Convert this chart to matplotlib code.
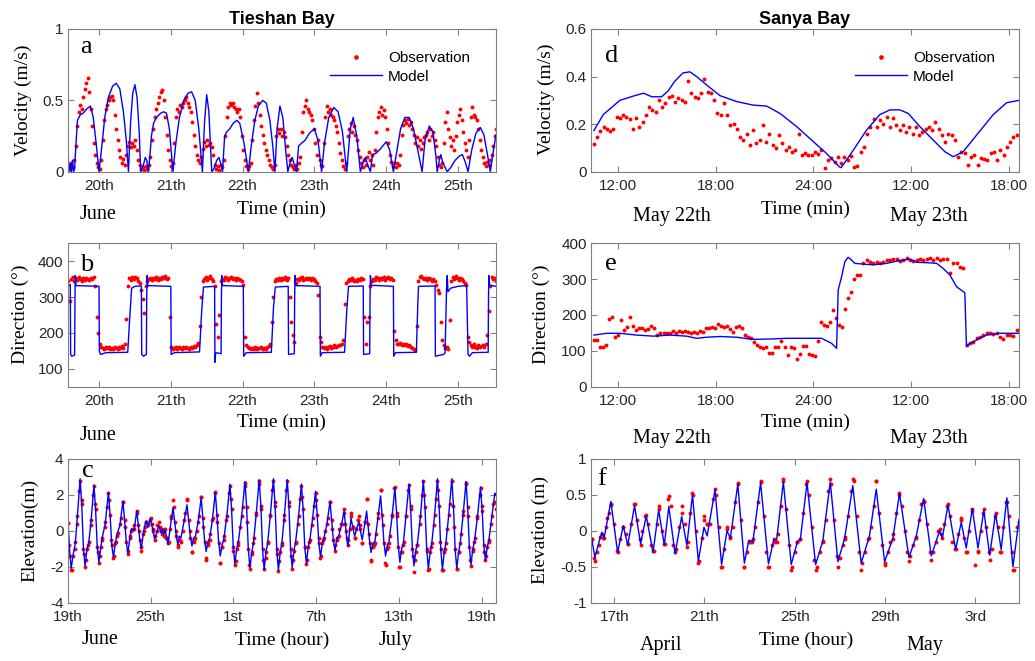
import matplotlib
matplotlib.use("Agg")
import matplotlib.pyplot as plt
import numpy as np

plt.rcParams['font.family'] = 'Liberation Sans'
plt.rcParams['axes.unicode_minus'] = False

SERIF = 'Liberation Serif'
OBS_COLOR = '#ff0000'
MODEL_COLOR = '#0000ff'

# ---------------- Tieshan Bay : velocity (a) ----------------
# time in days of June
a_model_day = [19.565, 19.58, 19.6, 19.615, 19.63, 19.645, 19.66, 19.68, 19.7, 19.74, 19.78, 19.83, 19.88, 19.92, 19.96, 20.0,
               20.04, 20.08, 20.13, 20.19, 20.24, 20.29, 20.34, 20.38, 20.41,
               20.44, 20.47, 20.5, 20.53, 20.56, 20.58, 20.62, 20.645, 20.665, 20.69,
               20.71, 20.73, 20.76, 20.8, 20.86, 20.9, 20.94, 20.98, 21.01, 21.03,
               21.07, 21.12, 21.18, 21.24, 21.29, 21.34, 21.39, 21.44, 21.47, 21.5, 21.53, 21.57,
               21.6, 21.64, 21.67, 21.7, 21.72, 21.75, 21.78, 21.82, 21.87, 21.92, 21.96, 22.02, 22.08,
               22.12, 22.17, 22.22, 22.28, 22.33, 22.38, 22.42, 22.45, 22.48, 22.52, 22.56, 22.6, 22.63,
               22.67, 22.69, 22.72, 22.75, 22.78, 22.82, 22.87, 22.93, 23.0, 23.05, 23.1,
               23.14, 23.2, 23.27, 23.33, 23.39, 23.45, 23.5, 23.54, 23.59, 23.64,
               23.68, 23.71, 23.74, 23.78, 23.81, 23.86, 23.92, 24.0, 24.05, 24.1,
               24.15, 24.2, 24.26, 24.32, 24.38, 24.44, 24.5, 24.54, 24.6, 24.65, 24.69, 24.71,
               24.74, 24.76, 24.79, 24.85, 24.9, 24.96, 25.02, 25.06, 25.1, 25.14,
               25.19, 25.25, 25.31, 25.36, 25.41, 25.45, 25.49, 25.53]
a_model_vel = [0.22, 0.0, 0.06, 0.0, 0.08, 0.0, 0.02, 0.2, 0.36, 0.40, 0.41, 0.44, 0.46, 0.38, 0.2, 0.0,
               0.18, 0.38, 0.52, 0.6, 0.62, 0.58, 0.42, 0.22, 0.0,
               0.35, 0.55, 0.61, 0.52, 0.28, 0.0, 0.05, 0.1, 0.08, 0.0,
               0.12, 0.25, 0.34, 0.38, 0.41, 0.42, 0.41, 0.3, 0.12, 0.0,
               0.2, 0.38, 0.5, 0.55, 0.56, 0.5, 0.3, 0.0, 0.35, 0.54, 0.42, 0.0,
               0.02, 0.08, 0.1, 0.05, 0.0, 0.25, 0.28, 0.3, 0.34, 0.36, 0.34, 0.2, 0.0,
               0.18, 0.36, 0.46, 0.5, 0.48, 0.36, 0.18, 0.0, 0.3, 0.46, 0.38, 0.15, 0.0,
               0.08, 0.1, 0.05, 0.0, 0.18, 0.2, 0.22, 0.27, 0.3, 0.22, 0.0,
               0.2, 0.38, 0.45, 0.42, 0.28, 0.0, 0.3, 0.38, 0.25, 0.0,
               0.07, 0.1, 0.05, 0.0, 0.12, 0.13, 0.16, 0.21, 0.15, 0.0,
               0.15, 0.3, 0.38, 0.38, 0.3, 0.15, 0.0, 0.22, 0.32, 0.28, 0.12, 0.0,
               0.08, 0.12, 0.06, 0.0, 0.03, 0.08, 0.11, 0.12, 0.07, 0.0,
               0.15, 0.27, 0.31, 0.26, 0.12, 0.0, 0.14, 0.26]
# observations every 30 min from 19.57 to 25.53
a_obs_vel = [0.04, 0.02, 0.06, 0.03, 0.08, 0.18, 0.32, 0.42, 0.47, 0.44, 0.52, 0.58, 0.62, 0.66, 0.56, 0.44,
             0.32, 0.2, 0.12, 0.06, 0.03, 0.02, 0.08, 0.22, 0.36, 0.44, 0.47, 0.5, 0.52, 0.53, 0.5, 0.4,
             0.3, 0.22, 0.15, 0.1, 0.06, 0.09, 0.05, 0.12, 0.18, 0.21, 0.17, 0.2, 0.18, 0.22, 0.15, 0.08,
             0.05, 0.02, 0.03, 0.01, 0.04, 0.02, 0.05, 0.1, 0.22, 0.3, 0.38, 0.44, 0.48, 0.52, 0.56, 0.57,
             0.5, 0.38, 0.26, 0.15, 0.08, 0.04, 0.06, 0.2, 0.38, 0.44, 0.42, 0.47, 0.45, 0.48, 0.5, 0.52,
             0.48, 0.45, 0.42, 0.35, 0.26, 0.18, 0.12, 0.08, 0.06, 0.1, 0.16, 0.21, 0.18, 0.22, 0.19, 0.2,
             0.17, 0.12, 0.05, 0.02, 0.04, 0.01, 0.05, 0.03, 0.08, 0.25, 0.38, 0.45, 0.48, 0.47, 0.48, 0.45,
             0.44, 0.42, 0.44, 0.38, 0.25, 0.15, 0.08, 0.04, 0.02, 0.04, 0.06, 0.22, 0.36, 0.46, 0.55, 0.48,
             0.4, 0.32, 0.26, 0.2, 0.15, 0.12, 0.08, 0.05, 0.03, 0.02, 0.05, 0.25, 0.3, 0.27, 0.3, 0.25,
             0.28, 0.24, 0.18, 0.12, 0.08, 0.05, 0.03, 0.02, 0.05, 0.02, 0.06, 0.1, 0.28, 0.42, 0.46, 0.5,
             0.44, 0.42, 0.4, 0.36, 0.3, 0.2, 0.12, 0.22, 0.08, 0.05, 0.04, 0.2, 0.38, 0.46, 0.42, 0.44,
             0.4, 0.38, 0.36, 0.32, 0.28, 0.2, 0.13, 0.08, 0.04, 0.02, 0.06, 0.25, 0.3, 0.34, 0.28, 0.32,
             0.26, 0.22, 0.15, 0.1, 0.06, 0.03, 0.08, 0.05, 0.1, 0.14, 0.08, 0.12, 0.05, 0.15, 0.28, 0.38,
             0.42, 0.45, 0.4, 0.43, 0.38, 0.3, 0.2, 0.12, 0.07, 0.04, 0.06, 0.03, 0.06, 0.05, 0.12, 0.26,
             0.33, 0.36, 0.34, 0.37, 0.33, 0.35, 0.3, 0.26, 0.2, 0.24, 0.18, 0.22, 0.16, 0.2, 0.24, 0.26,
             0.28, 0.22, 0.3, 0.25, 0.28, 0.22, 0.18, 0.1, 0.05, 0.03, 0.06, 0.2, 0.35, 0.42, 0.3, 0.24,
             0.18, 0.22, 0.15, 0.25, 0.35, 0.4, 0.44, 0.36, 0.28, 0.2, 0.15, 0.1, 0.22, 0.38, 0.45, 0.4,
             0.38, 0.36, 0.3, 0.22, 0.15, 0.1, 0.06, 0.04, 0.07, 0.05, 0.08, 0.12, 0.18, 0.25, 0.3]

# ---------------- Tieshan Bay : direction (b) ----------------
b_model_day = [19.564, 19.6, 19.605, 19.62, 19.66, 19.666, 19.67, 19.68,
               20.0, 20.005, 20.02, 20.1, 20.4, 20.43, 20.455, 20.5,
               20.59, 20.595, 20.62, 20.66, 20.664, 20.67, 20.68,
               21.0, 21.005, 21.05, 21.4, 21.43, 21.455,
               21.61, 21.615, 21.625, 21.7, 21.705, 21.71, 21.72,
               22.01, 22.015, 22.05, 22.4, 22.43, 22.455,
               22.635, 22.64, 22.72, 22.725, 22.73, 22.74,
               23.078, 23.083, 23.11, 23.42, 23.45, 23.475,
               23.68, 23.685, 23.77, 23.775, 23.78, 23.79,
               24.1, 24.105, 24.13, 24.42, 24.44, 24.45,
               24.68, 24.685, 24.8, 24.82, 24.84, 24.85, 24.86, 24.9, 25.0,
               25.12, 25.14, 25.16, 25.2, 25.42, 25.425, 25.43, 25.44, 25.53]
b_model_dir = [330, 335, 140, 135, 138, 300, 360, 332,
               330, 150, 140, 145, 146, 250, 325, 330,
               331, 140, 135, 140, 300, 360, 332,
               330, 140, 145, 147, 260, 328,
               330, 118, 145, 142, 300, 360, 332,
               330, 135, 145, 146, 270, 328,
               330, 140, 142, 300, 360, 332,
               330, 135, 145, 146, 260, 330,
               331, 140, 142, 300, 360, 333,
               330, 135, 145, 146, 280, 330,
               331, 135, 140, 145, 320, 360, 315, 325, 330,
               332, 140, 135, 145, 146, 300, 360, 333, 330]
b_obs_dir = [345, 290,
             350, 355, 345, 352, 348, 356, 350, 345, 352, 349, 354, 350, 347, 353, 351, 356,
             330, 245, 200, 170, 160,
             158, 155, 160, 157, 162, 156, 159, 154, 160, 158, 155, 161, 157, 163, 159, 168,
             240, 330, 352,
             348, 355, 350, 357, 352, 346, 340,
             320, 295, 255, 330,
             345, 350, 354, 348, 352, 350, 356, 349, 353, 351, 355, 352, 358, 350, 354,
             245, 160, 155,
             158, 160, 156, 162, 158, 155, 160, 157, 161, 158, 156, 162, 159, 163, 160, 165, 172,
             220, 300, 345,
             350, 356, 348, 352, 358, 350, 346,
             330, 225, 190, 250, 345,
             350, 348, 355, 352, 349, 353, 356, 350, 352, 347, 354, 351, 349, 345, 335,
             190, 165,
             160, 157, 155, 159, 156, 160, 154, 158, 157, 161, 155, 159, 156, 160, 163, 170,
             230, 300, 345,
             350, 348, 353, 347, 352, 350, 355, 349, 352,
             300, 230, 195, 175, 340,
             350, 347, 352, 355, 348, 351, 354, 350, 353, 348, 352, 350, 346, 340,
             305, 190, 175,
             160, 158, 162, 156, 160, 163, 158, 161, 165, 160, 163, 167, 165, 170, 180,
             280, 340,
             345, 350, 347, 352, 345, 349, 346, 351, 348, 353, 350,
             245, 170, 230, 245, 330,
             345, 350, 348, 355, 352, 347, 353, 350, 356, 349, 352, 355, 350, 353, 348,
             205, 180,
             170, 168, 172, 166, 170, 165, 168, 163, 166, 160, 158, 155, 152,
             220, 345,
             355, 358, 352, 350, 354, 348, 352, 350, 346, 350, 345, 335,
             320, 310, 230, 180, 165,
             158, 162, 155,
             235, 345,
             355, 350, 358, 352, 348, 353, 350, 345, 340,
             335, 190, 175,
             165, 160, 168, 162, 158, 165, 160, 163, 167, 162, 170,
             195, 260, 330,
             355, 350, 352, 345]

# ---------------- Tieshan Bay : elevation (c) ----------------
# days after 19 June
c_model_day = [0.0, 0.12, 0.25, 0.4, 0.55, 0.7,
               0.9, 1.02, 1.14, 1.26, 1.4, 1.52, 1.7,
               1.9, 2.02, 2.14, 2.26, 2.4, 2.52, 2.72,
               2.95, 3.07, 3.19, 3.31, 3.45, 3.57, 3.78,
               4.0, 4.12, 4.24, 4.36, 4.5, 4.62, 4.8,
               5.0, 5.12, 5.22, 5.33, 5.47, 5.58, 5.7,
               5.8, 5.98, 6.1, 6.2, 6.3, 6.45, 6.6, 6.75, 6.85, 6.95, 7.05, 7.15, 7.26, 7.4, 7.5,
               7.63, 7.75, 7.87, 7.97, 8.08, 8.2, 8.42,
               8.64, 8.76, 8.88, 9.0, 9.12, 9.25, 9.45,
               9.67, 9.79, 9.91, 10.03, 10.16, 10.28, 10.48,
               10.69, 10.81, 10.93, 11.05, 11.18, 11.3, 11.52,
               11.75, 11.87, 11.99, 12.11, 12.24, 12.36, 12.6,
               12.84, 12.96, 13.08, 13.2, 13.33, 13.45, 13.65,
               13.87, 13.99, 14.11, 14.23, 14.36, 14.48, 14.68,
               14.9, 15.02, 15.14, 15.26, 15.39, 15.51, 15.7,
               15.9, 16.02, 16.14, 16.26, 16.39, 16.51, 16.72,
               16.93, 17.05, 17.17, 17.29, 17.42, 17.54, 17.74,
               17.95, 18.07, 18.19, 18.31, 18.44, 18.56, 18.78,
               19.0, 19.12, 19.24, 19.36, 19.5, 19.62, 19.82,
               20.02, 20.12, 20.22, 20.3, 20.42, 20.52, 20.65,
               20.78, 20.9, 21.0, 21.1, 21.2, 21.33, 21.5,
               21.65, 21.77, 21.87, 21.97, 22.1, 22.25, 22.45,
               22.66, 22.78, 22.9, 23.02, 23.15, 23.27, 23.48,
               23.7, 23.82, 23.94, 24.06, 24.19, 24.31, 24.5,
               24.72, 24.84, 24.96, 25.08, 25.21, 25.33, 25.55,
               25.76, 25.88, 26.0, 26.12, 26.25, 26.37, 26.58,
               26.78, 26.9, 27.02, 27.14, 27.27, 27.39, 27.6,
               27.82, 27.94, 28.06, 28.18, 28.31, 28.43, 28.64,
               28.85, 28.97, 29.09, 29.21, 29.34, 29.46, 29.68,
               29.9, 30.02, 30.14, 30.26, 30.39, 30.51, 30.72,
               30.94, 31.0]
c_model_elev = [1.0, -0.9, -2.1, -1.3, -0.7, 0.8,
                2.9, 1.4, -1.0, -1.95, -1.0, -0.7, 0.6,
                2.55, 1.2, -0.9, -1.75, -0.9, -0.3, 0.4,
                2.15, 0.9, -0.8, -1.45, -0.7, -0.2, 0.3,
                1.65, 0.6, -0.6, -1.25, -0.4, 0.1, 0.0,
                1.1, 0.3, -0.5, -1.0, -0.2, 0.3, 0.55,
                0.2, 0.7, 0.3, -0.1, -0.45, -0.1, 0.3, -0.1, 0.1, -0.2, 0.05, -0.3, -0.75, 0.0, 0.6,
                1.3, 0.5, -0.3, -0.75, -0.3, -0.4, 0.5,
                1.45, 0.6, -0.3, -0.85, -0.4, -0.3, 0.5,
                1.85, 0.7, -0.5, -1.15, -0.6, -0.4, 0.6,
                2.15, 0.9, -0.6, -1.4, -0.8, -0.5, 0.8,
                2.6, 1.2, -0.9, -1.85, -1.0, -0.6, 0.8,
                2.75, 1.3, -1.0, -2.05, -1.2, -0.7, 0.9,
                2.85, 1.4, -1.0, -2.15, -1.2, -0.7, 0.9,
                2.9, 1.4, -1.0, -2.2, -1.2, -0.7, 0.9,
                2.85, 1.4, -1.0, -2.05, -1.1, -0.6, 0.8,
                2.6, 1.2, -0.9, -1.8, -0.9, -0.5, 0.7,
                2.2, 0.9, -0.7, -1.45, -0.7, -0.4, 0.4,
                1.65, 0.6, -0.5, -1.1, -0.4, -0.3, 0.3,
                1.1, 0.3, -0.5, -0.85, 0.0, 0.7, 0.2,
                -0.3, 0.0, 0.3, 0.5, 0.0, -0.5, 0.3,
                1.1, 0.2, -0.6, -1.2, -0.7, -0.6, 0.6,
                1.95, 0.8, -0.6, -1.4, -0.8, -0.6, 0.7,
                2.4, 1.0, -0.8, -1.75, -1.0, -0.7, 0.8,
                2.6, 1.2, -0.9, -1.95, -1.1, -0.7, 0.8,
                2.8, 1.3, -1.0, -2.1, -1.2, -0.7, 0.9,
                2.9, 1.4, -1.0, -2.15, -1.2, -0.7, 0.9,
                2.9, 1.4, -1.0, -2.1, -1.2, -0.7, 0.9,
                2.75, 1.3, -0.9, -1.9, -1.0, -0.6, 0.8,
                2.45, 1.1, -0.8, -1.65, -0.9, -0.5, 0.8,
                2.1, 2.0]
# observations at the turning points (same times as c_model_day)
c_obs_turn = [0.45, -0.8, -2.2, -1.4, -0.6, 0.8,
              2.8, 1.5, -1.0, -2.0, -1.0, -0.6, 0.6,
              2.5, 1.2, -0.9, -1.8, -0.9, -0.4, 0.5,
              2.1, 0.9, -0.8, -1.5, -0.7, -0.3, 0.4,
              1.6, 0.6, -0.6, -1.3, -0.4, 0.0, 0.1,
              1.1, 0.3, -0.5, -1.1, -0.2, 0.2, 0.5,
              0.3, 0.6, 0.4, 0.0, -0.5, 0.0, 0.5, 0.0, 0.1, -0.3, 0.1, -0.4, -0.7, 0.1, 0.7,
              1.7, 0.5, -0.3, -0.9, -0.5, -0.6, 0.6,
              1.75, 0.6, -0.4, -1.2, -0.6, -0.4, 0.5,
              1.9, 0.7, -0.6, -1.6, -0.8, -0.5, 0.6,
              2.15, 0.9, -0.7, -1.8, -0.9, -0.5, 0.8,
              2.5, 1.2, -0.9, -1.9, -1.0, -0.6, 0.8,
              2.65, 1.3, -1.0, -2.1, -1.2, -0.7, 0.9,
              2.75, 1.4, -1.0, -2.15, -1.2, -0.7, 0.9,
              2.8, 1.4, -1.0, -2.25, -1.2, -0.7, 0.9,
              2.75, 1.4, -1.0, -2.1, -1.1, -0.6, 0.8,
              2.5, 1.2, -0.9, -1.85, -0.9, -0.5, 0.7,
              2.1, 0.9, -0.7, -1.5, -0.7, -0.4, 0.4,
              1.6, 0.6, -0.5, -1.1, -0.5, -0.3, 0.4,
              1.2, 0.4, -0.4, -0.8, 0.1, 1.0, 0.2,
              -0.4, 0.1, 0.6, 0.8, 0.1, -0.7, 0.5,
              1.8, 0.4, -0.7, -1.7, -0.9, -0.7, 0.7,
              2.3, 0.9, -0.7, -1.9, -1.0, -0.7, 0.8,
              2.45, 1.0, -0.9, -2.0, -1.2, -0.8, 0.8,
              2.55, 1.2, -1.0, -2.3, -1.2, -0.8, 0.8,
              2.75, 1.3, -1.0, -2.2, -1.2, -0.7, 0.9,
              2.8, 1.4, -1.0, -2.2, -1.2, -0.7, 0.9,
              2.8, 1.4, -1.0, -2.1, -1.2, -0.7, 0.9,
              2.65, 1.3, -0.9, -1.95, -1.0, -0.6, 0.8,
              2.4, 1.1, -0.8, -1.65, -0.9, -0.5, 0.8,
              1.6, 1.2]
# observations every 4 hours
c_obs_4h = [0.45, -1.4, -2.2, -1.0, 0.4, 2.2,
            1.7, -1.3, -1.6, -0.8, 0.3, 2.0,
            1.5, -1.2, -1.4, -0.5, 0.2, 1.3,
            1.7, -0.5, -1.4, -0.6, -0.1, 0.7,
            1.6, 0.2, -1.1, -0.3, 0.1, 0.3,
            1.0, 0.0, -0.9, 0.0, 0.5, 0.4,
            0.7, 0.1, -0.3, 0.3, 0.2, -0.2,
            0.0, -0.4, -0.6, 0.8, 1.3, 0.0,
            -0.8, -0.5, 0.0, 1.0, 1.7, 0.0,
            -1.2, -0.5, 0.0, 0.8, 1.9, 0.2,
            -1.5, -0.7, -0.2, 0.7, 2.1, 0.5,
            -1.8, -0.9, -0.3, 0.6, 2.1, 1.8,
            -1.1, -1.7, -0.8, 0.2, 1.3, 2.5,
            0.5, -1.9, -1.3, -0.4, 1.0, 2.6,
            1.2, -1.6, -1.5, -0.6, 0.8, 2.3,
            1.6, -1.3, -1.7, -0.8, 0.6, 2.3,
            1.6, -1.4, -1.6, -0.7, 0.4, 1.8,
            1.9, -0.9, -1.6, -0.6, 0.3, 1.4,
            1.7, -0.4, -1.4, -0.5, 0.0, 0.7,
            1.6, 0.1, -0.8, -0.4, 0.1, 0.4,
            1.0, 0.0, -0.5, 0.8, 0.2, -0.4,
            0.6, 0.3, -0.7, 0.5, 1.8, -0.2,
            -1.6, -0.8, -0.2, 1.0, 2.3, 0.3,
            -1.8, -0.9, -0.3, 0.9, 2.4, 0.8,
            -2.0, -1.2, -0.6, 0.8, 2.3, 1.4,
            -1.4, -1.6, -0.8, 0.4, 2.0, 2.0,
            -1.1, -2.1, -0.9, 0.3, 1.8, 2.3,
            -0.6, -2.2, -1.0, 0.1, 1.5, 2.8,
            0.2, -2.1, -1.2, -0.2, 1.1, 2.6,
            0.8, -1.6, -1.1, -0.4, 0.7, 2.0,
            1.4, -1.2, -1.4, -0.6, 0.4, 1.5,
            1.6]

# ---------------- Sanya Bay : velocity (d) ----------------
# hours from 00:00 on 22 May
d_model_hour = [10.55, 11.12, 12.14, 12.6, 13.06, 13.6, 14.1, 14.7, 15.1, 15.5, 16.0, 16.43, 16.84,
                17.45, 18.27, 19.29, 20.3, 21.13, 21.95, 22.97, 24.0, 24.8, 25.6, 25.7, 26.44,
                27.26, 28.07, 28.69, 29.3, 29.81, 30.52, 31.34, 32.06, 32.57, 33.18, 34.0, 35.02,
                35.84, 36.6]
d_model_vel = [0.173, 0.24, 0.30, 0.31, 0.32, 0.33, 0.315, 0.315, 0.34, 0.38, 0.415, 0.42, 0.40,
               0.365, 0.32, 0.295, 0.28, 0.276, 0.245, 0.19, 0.126, 0.077, 0.02, 0.017, 0.09,
               0.175, 0.24, 0.26, 0.26, 0.245, 0.19, 0.133, 0.084, 0.063, 0.084, 0.154, 0.24,
               0.29, 0.30]
d_obs_vel = [0.116, 0.147, 0.173, 0.19, 0.18, 0.17, 0.18, 0.23, 0.225, 0.24,
             0.23, 0.22, 0.18, 0.225, 0.19, 0.21, 0.24, 0.27, 0.26, 0.25,
             0.30, 0.27, 0.29, 0.315, 0.32, 0.295, 0.31, 0.30, 0.295, 0.38,
             0.33, 0.315, 0.31, 0.33, 0.39, 0.335, 0.33, 0.30, 0.245, 0.24,
             0.29, 0.24, 0.195, 0.20, 0.18, 0.147, 0.133, 0.16, 0.112, 0.175,
             0.12, 0.133, 0.196, 0.126, 0.16, 0.112, 0.098, 0.154, 0.12, 0.091,
             0.105, 0.084, 0.091, 0.16, 0.07, 0.077, 0.07, 0.07, 0.084, 0.074,
             0.091, 0.014, 0.049, 0.056, 0.042, 0.063, 0.035, 0.063, 0.049, 0.066,
             0.021, 0.024, 0.084, 0.105, 0.16, 0.19, 0.22, 0.19, 0.217, 0.20,
             0.23, 0.19, 0.225, 0.196, 0.175, 0.196, 0.168, 0.19, 0.16, 0.19,
             0.154, 0.168, 0.18, 0.19, 0.175, 0.21, 0.18, 0.154, 0.126, 0.16,
             0.154, 0.133, 0.063, 0.084, 0.077, 0.028, 0.063, 0.07, 0.028, 0.056,
             0.052, 0.049, 0.077, 0.084, 0.049, 0.091, 0.07, 0.105, 0.126, 0.147,
             0.154]

# ---------------- Sanya Bay : direction (e) ----------------
e_model_hour = [10.55, 11.33, 12.14, 13.16, 14.19, 15.2, 16.23, 16.84, 17.45, 18.27, 19.29, 20.31,
                21.33, 22.36, 23.58, 24.5, 25.11, 25.42, 25.52, 25.73, 25.93, 26.13, 26.34, 26.54,
                27.05, 27.67, 28.48, 29.3, 29.91, 30.32, 30.93, 31.55, 31.95, 32.36, 32.77, 33.28,
                33.38, 33.59, 34.2, 34.61, 35.43, 36.6]
e_model_dir = [144, 149, 149, 144, 141, 144, 141, 135, 138, 140, 138, 132,
               133, 135, 135, 135, 121, 107, 270, 307, 349, 361, 353, 344,
               342, 340, 344, 352, 356, 347, 346, 344, 330, 312, 279, 262,
               112, 121, 135, 144, 149, 149]
# observations before and after 03:00 on 23 May
e_obs_dir_1 = [130, 130, 112, 112, 116, 189, 195, 140, 144, 186, 158, 167, 195, 169, 158,
               165, 163, 158, 161, 169, 163, 144, 149, 149, 151, 151, 155, 149, 155, 153,
               155, 153, 151, 153, 151, 155, 153, 163, 163, 167, 163, 175, 169, 167, 169,
               160, 153, 167, 169, 163, 144, 140, 135, 126, 116, 112, 107, 112, 93, 93,
               112, 112, 128, 112, 88, 112, 107, 76, 90, 113, 113, 91, 88, 86, 128,
               181, 172, 169, 181, 214, 191, 172, 167, 216, 247, 265, 300, 312, 312, 344]
e_obs_dir_2 = [353, 349, 344, 349, 344, 349, 353, 353, 355, 355, 352, 353, 358, 353, 352,
               353, 355, 353, 355, 358, 353, 358, 353, 355, 355,
               318, 346, 344, 335, 330,
               116, 121, 126, 135, 138, 144, 149, 149, 147, 149, 140, 132, 144, 144, 141, 158]

# ---------------- Sanya Bay : elevation (f) ----------------
# days after 00:00 on 16 April
f_model_day = [0.0, 0.14, 0.33, 0.45, 0.55, 0.7, 0.85, 1.15,
               1.4, 1.6, 1.9, 2.17, 2.42, 2.72, 2.97, 3.22,
               3.42, 3.7, 3.99, 4.22, 4.47, 4.73, 4.98, 5.12,
               5.47, 5.76, 6.0, 6.15, 6.48, 6.77, 6.97, 7.15,
               7.49, 7.84, 8.07, 8.2, 8.5, 8.85, 9.12, 9.25,
               9.55, 9.93, 10.25, 10.58, 10.92, 11.22, 11.58, 11.95,
               12.32, 12.62, 12.99, 13.36, 13.65, 14.07, 14.39, 14.72,
               15.06, 15.43, 15.55, 15.8, 16.14, 16.39, 16.61, 16.88,
               17.13, 17.39, 17.65, 17.91, 18.16, 18.41, 18.68, 18.95]
f_model_elev = [-0.1, -0.37, -0.15, -0.02, -0.1, 0.15, 0.41, -0.3,
                0.07, -0.2, 0.35, -0.18, 0.21, -0.3, 0.29, -0.2,
                0.34, -0.32, 0.2, -0.2, 0.5, -0.42, 0.05, -0.07,
                0.57, -0.47, 0.0, -0.1, 0.65, -0.45, -0.13, -0.15,
                0.67, -0.46, -0.13, -0.13, 0.68, -0.47, -0.15, -0.13,
                0.67, -0.47, -0.14, 0.68, -0.43, -0.1, 0.63, -0.45,
                -0.07, 0.58, -0.43, -0.1, 0.52, -0.37, -0.08, 0.45,
                -0.35, 0.0, -0.1, 0.36, -0.26, 0.12, -0.24, 0.31,
                -0.24, 0.28, -0.34, 0.24, -0.26, 0.46, -0.5, 0.16]
f_obs_turn = [-0.12, -0.42, -0.2, -0.05, -0.1, 0.18, 0.36, -0.3,
              0.05, -0.18, 0.38, -0.2, 0.22, -0.28, 0.35, -0.18,
              0.48, -0.3, 0.25, -0.22, 0.52, -0.45, 0.2, 0.1,
              0.58, -0.5, 0.02, -0.08, 0.66, -0.5, -0.15, -0.12,
              0.68, -0.5, -0.12, -0.15, 0.7, -0.55, -0.15, -0.12,
              0.7, -0.55, -0.15, 0.72, -0.5, -0.12, 0.72, -0.55,
              -0.1, 0.7, -0.48, -0.12, 0.53, -0.42, -0.1, 0.42,
              -0.4, 0.02, -0.1, 0.38, -0.25, 0.18, -0.3, 0.3,
              -0.3, 0.3, -0.4, 0.25, -0.3, 0.4, -0.55, 0.13]
# observations every 3 hours
f_obs_3h = [-0.12, -0.38, -0.3, -0.08, -0.1, 0.05, 0.25, 0.38,
            0.1, -0.28, -0.12, 0.05, -0.05, -0.18, 0.1, 0.38,
            0.15, -0.12, 0.0, 0.2, 0.1, -0.2, -0.28, 0.1,
            0.3, 0.0, -0.18, 0.45, 0.35, -0.2, -0.25, 0.05,
            0.35, 0.1, -0.15, 0.25, 0.5, 0.0, -0.42, -0.1,
            0.15, 0.1, 0.1, 0.45, 0.5, 0.05, -0.5, -0.25,
            0.05, -0.1, 0.05, 0.4, 0.65, 0.15, -0.5, -0.3,
            -0.15, -0.15, 0.05, 0.4, 0.7, 0.2, -0.3, -0.5,
            -0.2, -0.15, -0.05, 0.35, 0.72, 0.3, -0.2, -0.5,
            -0.3, -0.15, -0.12, 0.25, 0.65, 0.5, 0.05, -0.4,
            -0.5, -0.3, -0.14, 0.15, 0.55, 0.65, 0.15, -0.35,
            -0.38, -0.2, -0.08, 0.2, 0.55, 0.7, 0.2, -0.3,
            -0.45, -0.3, -0.12, 0.05, 0.35, 0.7, 0.25, -0.2,
            -0.45, -0.3, -0.15, -0.05, 0.25, 0.5, 0.35, 0.0,
            -0.3, -0.35, -0.2, -0.08, 0.15, 0.38, 0.4, 0.1,
            -0.3, -0.3, -0.15, 0.0, -0.05, 0.1, 0.35, 0.2,
            -0.15, -0.25, -0.05, 0.15, -0.1, -0.3, 0.0, 0.28,
            -0.47, -0.28, 0.0, 0.25, 0.05, -0.3, -0.25, 0.2,
            0.05, -0.3, 0.05, 0.4, 0.2, -0.3, -0.55, 0.05]

# tick labels
june_ticks = [20, 21, 22, 23, 24, 25]
june_labels = ['20th', '21th', '22th', '23th', '24th', '25th']
month_ticks = [0, 6, 12, 18, 24, 30]
month_labels = ['19th', '25th', '1st', '7th', '13th', '19th']
may_ticks = [12, 18, 24, 30, 36]
may_labels = ['12:00', '18:00', '24:00', '12:00', '18:00']
april_ticks = [1, 5, 9, 13, 17]
april_labels = ['17th', '21th', '25th', '29th', '3rd']

# ---------------- figure ----------------
W, H = 1035, 661
fig = plt.figure(figsize=(W / 100, H / 100), dpi=100)


def add_axes(left, top, right, bottom):
    return fig.add_axes([left / W, 1 - bottom / H, (right - left) / W, (bottom - top) / H])


def style(ax):
    for sp in ax.spines.values():
        sp.set_color('#808080')
        sp.set_linewidth(0.8)
    ax.tick_params(direction='in', length=4, width=0.8, color='#808080',
                   top=True, right=True, labelsize=11, labelcolor='#262626')
    ax.tick_params(axis='x', pad=5.5)
    ax.tick_params(axis='y', pad=3)


def ftext(x, y, s, size=14, rot=0, **kw):
    fig.text(x / W, 1 - y / H, s, ha='center', va='center', rotation=rot,
             fontsize=size, family=SERIF, **kw)


def letter(x, y, s):
    fig.text(x / W, 1 - y / H, s, ha='left', va='baseline', fontsize=19, family=SERIF)


def draw(ax, obs_x, obs_y, mod_x, mod_y):
    ho = None
    for ox, oy in zip(obs_x, obs_y):
        ho, = ax.plot(ox, oy, 'o', color=OBS_COLOR, ms=2.8, mew=0, linestyle='none')
    hm, = ax.plot(mod_x, mod_y, '-', color=MODEL_COLOR, lw=1.0)
    return ho, hm


def legend(ax, ho, hm, x):
    ax.legend([ho, hm], ['Observation', 'Model'], loc='upper left', bbox_to_anchor=(x, 0.843),
              frameon=False, fontsize=11, handlelength=3.4, handletextpad=0.4, borderpad=0,
              borderaxespad=0, labelspacing=0.28, markerscale=1.2, numpoints=1)


L1, R1, L2, R2 = 67.7, 495.7, 591, 1019
T1, B1, T2, B2, T3, B3 = 29, 171.7, 243.3, 386.7, 459, 602.7

# (a)
ax = add_axes(L1, T1, R1, B1)
a_obs_day = np.linspace(19.57, 25.53, len(a_obs_vel))
ho, hm = draw(ax, [a_obs_day], [a_obs_vel], a_model_day, a_model_vel)
ax.set_xlim(19.564, 25.525)
ax.set_ylim(0, 1)
ax.set_yticks([0, 0.5, 1])
ax.set_yticklabels(['0', '0.5', '1'])
ax.set_xticks(june_ticks)
ax.set_xticklabels(june_labels)
style(ax)
legend(ax, ho, hm, 0.613)

# (b)
ax = add_axes(L1, T2, R1, B2)
b_obs_day = np.linspace(19.57, 25.53, len(b_obs_dir))
draw(ax, [b_obs_day], [b_obs_dir], b_model_day, b_model_dir)
ax.set_xlim(19.564, 25.525)
ax.set_ylim(50, 450)
ax.set_yticks([100, 200, 300, 400])
ax.set_xticks(june_ticks)
ax.set_xticklabels(june_labels)
style(ax)

# (c)
ax = add_axes(L1, T3, R1, B3)
c_obs_day = np.arange(len(c_obs_4h)) / 6.0
draw(ax, [c_model_day, c_obs_day], [c_obs_turn, c_obs_4h], c_model_day, c_model_elev)
ax.set_xlim(0, 31.0)
ax.set_ylim(-4, 4)
ax.set_yticks([-4, -2, 0, 2, 4])
ax.set_yticklabels(['-4', '-2', '0', '2', '4'])
ax.set_xticks(month_ticks)
ax.set_xticklabels(month_labels)
style(ax)

# (d)
ax = add_axes(L2, T1, R2, B1)
d_obs_hour = np.linspace(10.55, 36.45, len(d_obs_vel))
ho, hm = draw(ax, [d_obs_hour], [d_obs_vel], d_model_hour, d_model_vel)
ax.set_xlim(10.37, 36.6)
ax.set_ylim(0, 0.6)
ax.set_yticks([0, 0.2, 0.4, 0.6])
ax.set_yticklabels(['0', '0.2', '0.4', '0.6'])
ax.set_xticks(may_ticks)
ax.set_xticklabels(may_labels)
style(ax)
legend(ax, ho, hm, 0.617)

# (e)
ax = add_axes(L2, T2, R2, B2)
e_obs_hour_1 = np.linspace(10.55, 27.05, len(e_obs_dir_1))
e_obs_hour_2 = np.linspace(27.26, 36.45, len(e_obs_dir_2))
draw(ax, [e_obs_hour_1, e_obs_hour_2], [e_obs_dir_1, e_obs_dir_2], e_model_hour, e_model_dir)
ax.set_xlim(10.37, 36.6)
ax.set_ylim(0, 400)
ax.set_yticks([0, 100, 200, 300, 400])
ax.set_xticks(may_ticks)
ax.set_xticklabels(may_labels)
style(ax)

# (f)
ax = add_axes(L2, T3, R2, B3)
f_obs_day = np.arange(len(f_obs_3h)) * 0.125
draw(ax, [f_model_day, f_obs_day], [f_obs_turn, f_obs_3h], f_model_day, f_model_elev)
ax.set_xlim(-0.03, 18.95)
ax.set_ylim(-1, 1)
ax.set_yticks([-1, -0.5, 0, 0.5, 1])
ax.set_yticklabels(['-1', '-0.5', '0', '0.5', '1'])
ax.set_xticks(april_ticks)
ax.set_xticklabels(april_labels)
style(ax)

# titles
fig.text(281.7 / W, 1 - 19 / H, 'Tieshan Bay', ha='center', va='center', fontsize=13, fontweight='bold')
fig.text(805 / W, 1 - 19 / H, 'Sanya Bay', ha='center', va='center', fontsize=13, fontweight='bold')

# y labels
ftext(23, 100, 'Velocity (m/s)', rot=90)
ftext(20, 314, 'Direction (\u00b0)', rot=90)
ftext(30, 530, 'Elevation(m)', rot=90)
ftext(546, 99, 'Velocity (m/s)', rot=90)
ftext(541, 314, 'Direction (\u00b0)', rot=90)
ftext(540, 530, 'Elevation (m)', rot=90)

# x labels and month names
ftext(281.7, 209, 'Time (min)')
ftext(98.5, 214, 'June', size=14.5)
ftext(281.7, 422, 'Time (min)')
ftext(98.5, 435, 'June', size=14.5)
ftext(281.7, 640, 'Time (hour)')
ftext(100, 640, 'June', size=14.5)
ftext(395, 640, 'July', size=14.5)
ftext(805, 209, 'Time (min)')
ftext(672, 217, 'May 22th', size=14.5)
ftext(929, 217, 'May 23th', size=14.5)
ftext(805, 422, 'Time (min)')
ftext(672, 438, 'May 22th', size=14.5)
ftext(929, 438, 'May 23th', size=14.5)
ftext(805.7, 640, 'Time (hour)')
ftext(660.7, 645.5, 'April', size=14.5)
ftext(925, 645.5, 'May', size=14.5)

# panel letters
letter(80, 53.3, 'a')
letter(80, 271, 'b')
letter(82, 476.7, 'c')
letter(605, 62.3, 'd')
letter(605, 270, 'e')
letter(597, 485, 'f')

fig.savefig('out.png', dpi=100)
